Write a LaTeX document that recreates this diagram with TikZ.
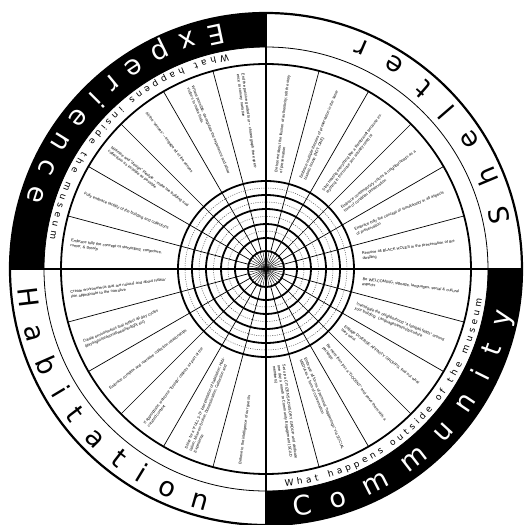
\documentclass[tikz,border=0pt]{standalone}
\usepackage{fontspec}
\setmainfont{DejaVu Sans}
\newfontfamily\segfont{Liberation Sans}
\usetikzlibrary{decorations.text}
\begin{document}
\begin{tikzpicture}[x=1pt,y=1pt,
  quadline/.style={line width=1.8pt},
  ringthick/.style={line width=1.8pt},
  segline/.style={line width=0.7pt},
  dashring/.style={line width=0.5pt, dash pattern=on 1pt off 1.3pt, black!70},
  segtext/.style={font=\segfont\fontsize{3.9}{4.9}\selectfont, text width=99pt, align=left, inner sep=0pt, anchor=west},
  bigword/.style={decorate, decoration={text along path, text align=fit to path, text={|\fontsize{27}{27}\selectfont|#1}}},
  bigwordw/.style={decorate, decoration={text along path, text align=fit to path, text color=white, text={|\fontsize{27}{27}\selectfont|#1}}},
  ringword/.style={decorate, decoration={text along path, text align=fit to path, text={|\fontsize{9}{9}\selectfont|#1}}},
]
\useasboundingbox (-266,-256) rectangle (257,269);
\coordinate (O) at (0,0);
% black quadrants of the outer band
\fill[black] (90:256pt) arc[start angle=90,end angle=180,radius=256pt] -- (180:222pt) arc[start angle=180,end angle=90,radius=222pt] -- cycle;
\fill[black] (270:256pt) arc[start angle=270,end angle=360,radius=256pt] -- (0:222pt) arc[start angle=360,end angle=270,radius=222pt] -- cycle;
% rings
\draw[line width=2.2pt] (O) circle[radius=256pt];
\draw[line width=0.8pt] (O) circle[radius=222pt];
\draw[ringthick] (O) circle[radius=205pt];
% segment lines
\foreach \a in {15,30,...,345} \draw[segline] (\a:18pt) -- (\a:205pt);
% grid
\foreach \r in {38,52.5,67,81} \draw[dashring] (O) circle[radius=\r pt];
\foreach \r in {18,31,45,60,74,88} \draw[ringthick] (O) circle[radius=\r pt];
\foreach \a in {0,10,...,350} \draw[line width=0.4pt] (O) -- (\a:18pt);
% quadrant lines
\draw[quadline] (180:256pt) -- (0:256pt);
\draw[quadline] (90:256pt) -- (270:256pt);
% big words
\path[bigwordw={Experience}] (100:249pt) arc[start angle=100,end angle=164,radius=249pt];
\path[bigword={Shelter}] (11:249pt) arc[start angle=11,end angle=68,radius=249pt];
\path[bigword={Habitation}] (184.5:249pt) arc[start angle=184.5,end angle=256,radius=249pt];
\path[bigwordw={Community}] (276.5:249pt) arc[start angle=276.5,end angle=350,radius=249pt];
% ring words
\path[ringword={What happens inside the museum}] (100:218pt) arc[start angle=100,end angle=172,radius=218pt];
\path[ringword={What happens outside of the museum}] (275:218pt) arc[start angle=275,end angle=352,radius=218pt];
% segment texts, right half
\node[segtext, rotate=82.5] (s1) at (82.5:97pt) {Be honest about the illusion of authenticity; tell the story of preservation};
\node[segtext, rotate=67.5] (s2) at (67.5:97pt) {Embrace multiple theories of preservation in the same historic house (NOT ONE)};
\node[segtext, rotate=52.5] (s3) at (52.5:97pt) {Stop treating everything like a Rembrandt because everything in the house you actually need is!};
\node[segtext, rotate=37.5] (s4) at (37.5:97pt) {Embrace contemporary voices \& neighborhoods as a form of condition preservation};
\node[segtext, rotate=22.5] (s5) at (22.5:97pt) {Embrace fully the concept of simultaneity in all aspects of preservation};
\node[segtext, rotate=7.5] (s6) at (7.5:97pt) {Remove all BLACK HOLES in the  preservation  of the dwelling};
\node[segtext, rotate=-7.5] (c1) at (-7.5:97pt) {Be WELCOMING; signage, languages, social \& cultural aspects};
\node[segtext, rotate=-22.5] (c2) at (-22.5:97pt) {Investigate the neighborhood “4 football fields” around your building. Languages/ethnicity/culture};
\node[segtext, rotate=-37.5] (c3) at (-37.5:97pt) {Engage DIVERSE AFFINITY GROUPS, find out what they want};
\node[segtext, rotate=-52.5] (c4) at (-52.5:97pt) {Be more than just a “DOCENT” and serve them with a package};
\node[segtext, rotate=-67.5] (c5) at (-67.5:97pt) {Embrace all forms of personal “happenings” via SOCIAL MEDIA as a form of conversation};
\node[segtext, rotate=-82.5] (c6) at (-82.5:97pt) {Set up a CITIZENS ADVISORY GROUP and dedicate one day a month to Community Engagement (SCAD members)};
% segment texts, left half
\node[segtext, rotate=-82.5] (e1) at (97.5:197pt) {End the passive guided tour – choreograph the experience to convey narrative};
\node[segtext, rotate=-67.5] (e2) at (112.5:197pt) {Where possible, de-regulate the experience and allow visitors to make finds};
\node[segtext, rotate=-52.5] (e3) at (127.5:197pt) {All the “senses” – engage all of the senses};
\node[segtext, rotate=-37.5] (e4) at (142.5:197pt) {Minimise and “design” lifestyle – make the building and collections as invisible as possible};
\node[segtext, rotate=-22.5] (e5) at (157.5:197pt) {Fully embrace tactility of the building and collections};
\node[segtext, rotate=-7.5] (e6) at (172.5:197pt) {Embrace fully the concept of storytelling, conjecture, rumor, \& gossip};
\node[segtext, rotate=7.5] (h1) at (187.5:197pt) {Create environments that are natural and about habitation appropriate to the narrative};
\node[segtext, rotate=22.5] (h2) at (202.5:197pt) {Create environments that reflect all day cycles (day/night/seasonal/weather/light etc)};
\node[segtext, rotate=37.5] (h3) at (217.5:197pt) {Embrace complex and narrative collection relationships};
\node[segtext, rotate=52.5] (h4) at (232.5:197pt) {If appropriate, welcome “foreign” objects as part of the curated context};
\node[segtext, rotate=67.5] (h5) at (247.5:197pt) {Strive for a “FULL 3-D” interpretation of habitation; Habitation, Mise-en-Scène, Domestication, Collection and Experience};
\node[segtext, rotate=82.5] (h6) at (262.5:197pt) {Believe in the intelligence of our guests};
\end{tikzpicture}
\end{document}
